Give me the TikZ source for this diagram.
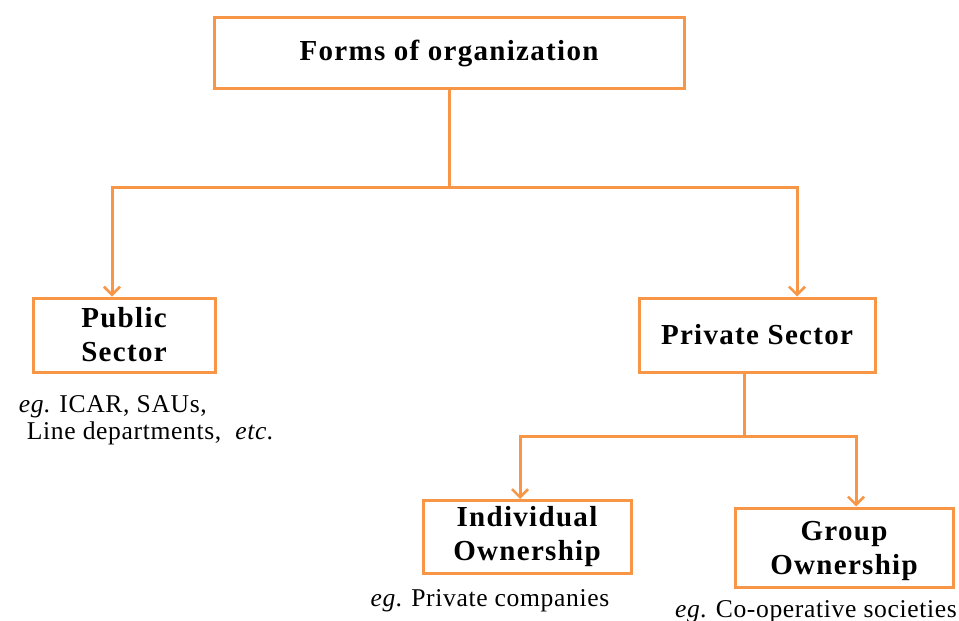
\documentclass[tikz,border=0pt]{standalone}
\usepackage{fontspec}
\setmainfont{Liberation Serif}
\usepackage{xcolor}
\usetikzlibrary{arrows.meta,positioning}

\definecolor{orgline}{HTML}{F79646}

\begin{document}
\begin{tikzpicture}[
  x=0.5pt, y=-0.5pt,
  box/.style={draw=orgline, line width=1.5pt, fill=white, align=center,
              inner sep=0pt, font=\fontsize{14.5}{17}\selectfont\bfseries\addfontfeature{LetterSpace=4.5}},
  note/.style={font=\fontsize{12.8}{13.5}\selectfont\addfontfeature{LetterSpace=2.5}, inner sep=0pt},
  link/.style={draw=orgline, line width=1.5pt},
  arr/.style={link, -{Straight Barb[length=4pt, width=8pt, line width=1.3pt]}}
]
  \useasboundingbox (0,0) rectangle (959,621);

  \node[box, minimum width=235pt, minimum height=35.5pt] (forms) at (449,53)  {Forms of organization};
  \node[box, minimum width=91pt,  minimum height=37pt]   (pub)   at (124,335) {Public\\Sector};
  \node[box, minimum width=118pt, minimum height=37pt]   (priv)  at (757,335) {Private Sector};
  \node[box, minimum width=104pt, minimum height=36.5pt] (indiv) at (527,537) {Individual\\Ownership};
  \node[box, minimum width=109pt, minimum height=39.5pt] (group) at (844,547.5) {\rule{0pt}{13pt}Group\\Ownership};

  \node[note, align=left, below=11pt of pub.south west, anchor=north west, xshift=-6.5pt] (pubeg)
    {\textit{eg}. ICAR, SAUs,\\\hspace{4pt}Line departments,\ \ \textit{etc}.};
  \node[note, below=7pt of indiv.south, xshift=-18.5pt] (indeg)  {\textit{eg}. Private companies};
  \node[note, below=6pt of group.south, xshift=-14pt] (grpeg)  {\textit{eg}. Co-operative societies};

  % junction points
  \coordinate (j1)  at (449,187);
  \coordinate (j1l) at (112,187);
  \coordinate (j1r) at (797,187);
  \coordinate (j2)  at (744,436);
  \coordinate (j2l) at (520,436);
  \coordinate (j2r) at (856,436);

  \draw[link] (forms.south) -- (j1);
  \draw[arr] (j1) -- (j1l) -- (j1l |- pub.north);
  \draw[arr] (j1) -- (j1r) -- (j1r |- priv.north);

  \draw[link] (j2 |- priv.south) -- (j2);
  \draw[arr] (j2) -- (j2l) -- (j2l |- indiv.north);
  \draw[arr] (j2) -- (j2r) -- (j2r |- group.north);
\end{tikzpicture}
\end{document}
